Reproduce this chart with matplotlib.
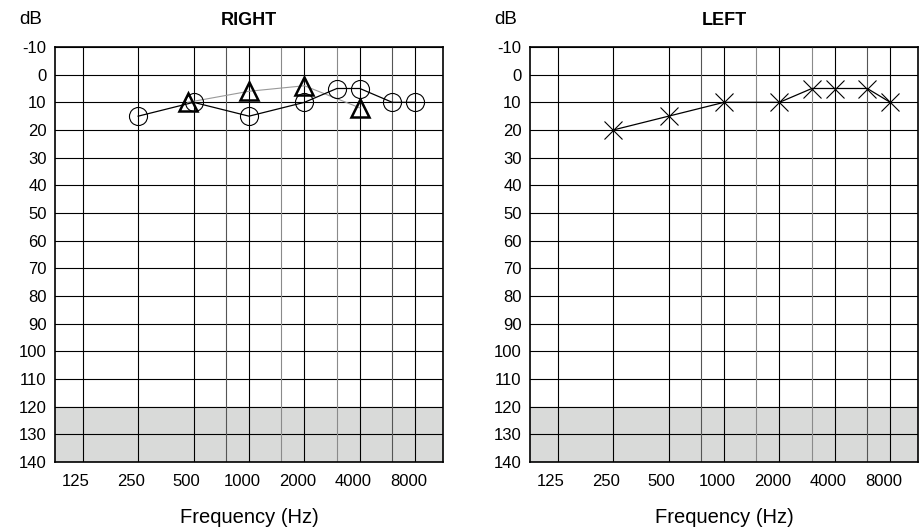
"""Audiogram, right and left ear."""
import matplotlib
matplotlib.use("Agg")
import matplotlib.pyplot as plt
import matplotlib.transforms as mtransforms
import numpy as np

plt.rcParams['font.family'] = ['Liberation Sans', 'DejaVu Sans']

# data
freq_labels = ['125', '250', '500', '1000', '2000', '4000', '8000']
octave_freqs = [125, 250, 500, 1000, 2000, 4000, 8000]
half_freqs = [750, 1500, 3000, 6000]
db_ticks = list(range(-10, 141, 10))

right_air_freq = [250, 500, 1000, 2000, 3000, 4000, 6000, 8000]
right_air_db = [15, 10, 15, 10, 5, 5, 10, 10]

right_bone_freq = [465, 1000, 2000, 4000]
right_bone_db = [10, 6, 4, 12]

left_air_freq = [250, 500, 1000, 2000, 3000, 4000, 6000, 8000]
left_air_db = [20, 15, 10, 10, 5, 5, 5, 10]


def setup_axes(ax, title, fig):
    ax.set_xscale('log', base=2)
    ax.set_xlim(125 / np.sqrt(2), 8000 * np.sqrt(2))
    ax.set_ylim(140, -10)
    ax.axhspan(120, 140, color='#d9dad9', zorder=0)
    for y in db_ticks:
        ax.axhline(y, color='black', lw=0.8, zorder=1)
    for f in octave_freqs:
        ax.axvline(f, color='black', lw=0.8, zorder=1)
    for f in half_freqs:
        c = '#555555' if f in (750, 6000) else '#8a8a8a'
        ax.axvline(f, color=c, lw=0.8, zorder=1)
    ax.set_yticks(db_ticks)
    ax.set_yticklabels([str(v) for v in db_ticks])
    ax.set_xticks(octave_freqs)
    ax.set_xticklabels(freq_labels)
    ax.minorticks_off()
    ax.tick_params(length=0, labelsize=12, pad=6)
    ax.tick_params(axis='x', pad=9)
    offset = mtransforms.ScaledTranslation(-0.07, 0, fig.dpi_scale_trans)
    for lab in ax.get_xticklabels():
        lab.set_transform(lab.get_transform() + offset)
    for sp in ax.spines.values():
        sp.set_linewidth(1.2)
        sp.set_zorder(5)
    ax.set_xlabel('Frequency (Hz)', fontsize=14.5, labelpad=13)
    ax.set_title(title, fontsize=13, fontweight='bold', pad=16)
    ax.text(-0.062, 1 + 23 / 415, 'dB', transform=ax.transAxes, fontsize=13.5,
            ha='center', va='baseline')


fig = plt.figure(figsize=(9.2, 5.28), dpi=100)
ax_r = fig.add_axes([55 / 920, 66 / 528, 388 / 920, 415 / 528])
ax_l = fig.add_axes([530 / 920, 66 / 528, 388 / 920, 415 / 528])

setup_axes(ax_r, 'RIGHT', fig)
setup_axes(ax_l, 'LEFT', fig)

# right ear
ax_r.plot(right_bone_freq, right_bone_db, color='#999999', lw=0.8, zorder=3)
ax_r.plot(right_bone_freq, right_bone_db, ls='none', marker='^', ms=13,
          mfc='none', mec='black', mew=1.8, zorder=4)
ax_r.plot(right_air_freq, right_air_db, color='black', lw=0.9, marker='o',
          ms=13, mfc='none', mec='black', mew=0.8, zorder=4)

# left ear
ax_l.plot(left_air_freq, left_air_db, color='black', lw=0.9, marker='x',
          ms=13, mec='black', mew=0.8, zorder=4)

fig.savefig('out.png', dpi=100)
